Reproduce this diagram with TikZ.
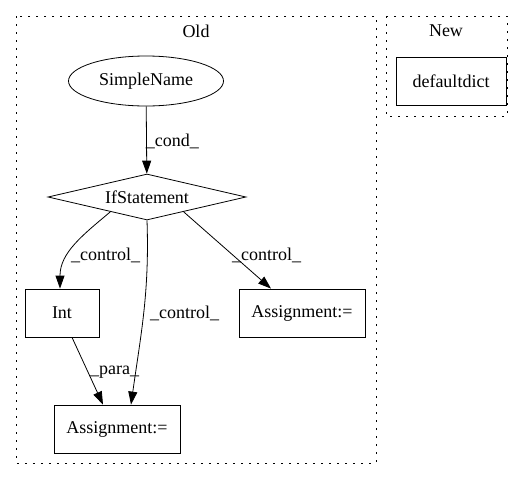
\documentclass[tikz,border=0pt]{standalone}
\usepackage{fontspec}
\setmainfont{Liberation Serif}
\usetikzlibrary{
	positioning,
	arrows.meta,
	shapes.geometric
}

\begin{document}
\begin{tikzpicture}[
		x=1pt, y=-1pt,
		every node/.style={font=\fontsize{18}{21}\selectfont},
		framed/.style={draw, thick, rectangle, minimum width=#1, minimum height=48pt, inner sep=0pt},
		framed/.default=74pt,
		cluster/.style={draw, thick, dash pattern=on 1.6pt off 6.4pt},
		flow/.style={-{Triangle[length=13pt, width=9pt]}, thick},
		lbl/.style={anchor=west, inner sep=0pt}
	]
		\useasboundingbox (0,0) rectangle (523,480);

		% clusters
		\draw[cluster] (16,16) rectangle (376,463);
		\draw[cluster] (386,16) rectangle (507,116);
		\node (oldtitle) at (196,31) {Old};
		\node (newtitle) at (446,31) {New};

		\node[draw, thick, ellipse, minimum width=155pt, minimum height=50pt, inner sep=0pt] (simplename) at (146,81) {SimpleName};
		\node[draw, thick, diamond, aspect=4, minimum width=198pt, minimum height=46pt, inner sep=0pt] (ifstmt) at (147,197) {IfStatement};
		\node[framed] (int) at (62,313) {Int};
		\node[framed=126pt] (assignright) at (302,313) {Assignment:=};
		\node[framed=126pt] (assignbottom) at (117,429) {Assignment:=};
		\node[framed=110pt] (defaultdict) at (451,81) {defaultdict};

		\draw[flow] (simplename) -- (ifstmt)
			node[midway, lbl, xshift=-1pt, yshift=-1pt] (condlabel) {\_cond\_};
		\draw[flow] (ifstmt.-158) to[out=-140, in=90] (int.north -| 60,0);
		\node[lbl] (controlleft) at (71,255) {\_control\_};
		\draw[flow] (ifstmt.south) to[out=-88, in=82] (assignbottom.north -| 131,0);
		\node[lbl] (controlmid) at (150,313) {\_control\_};
		\draw[flow] (ifstmt.-22) -- (assignright.north -| 271,0);
		\node[lbl] (controlright) at (232,255) {\_control\_};
		\draw[flow] (int.south -| 72,0) -- (assignbottom.north -| 103,0);
		\node[lbl] (paralabel) at (90,372) {\_para\_};

	\end{tikzpicture}
\end{document}
